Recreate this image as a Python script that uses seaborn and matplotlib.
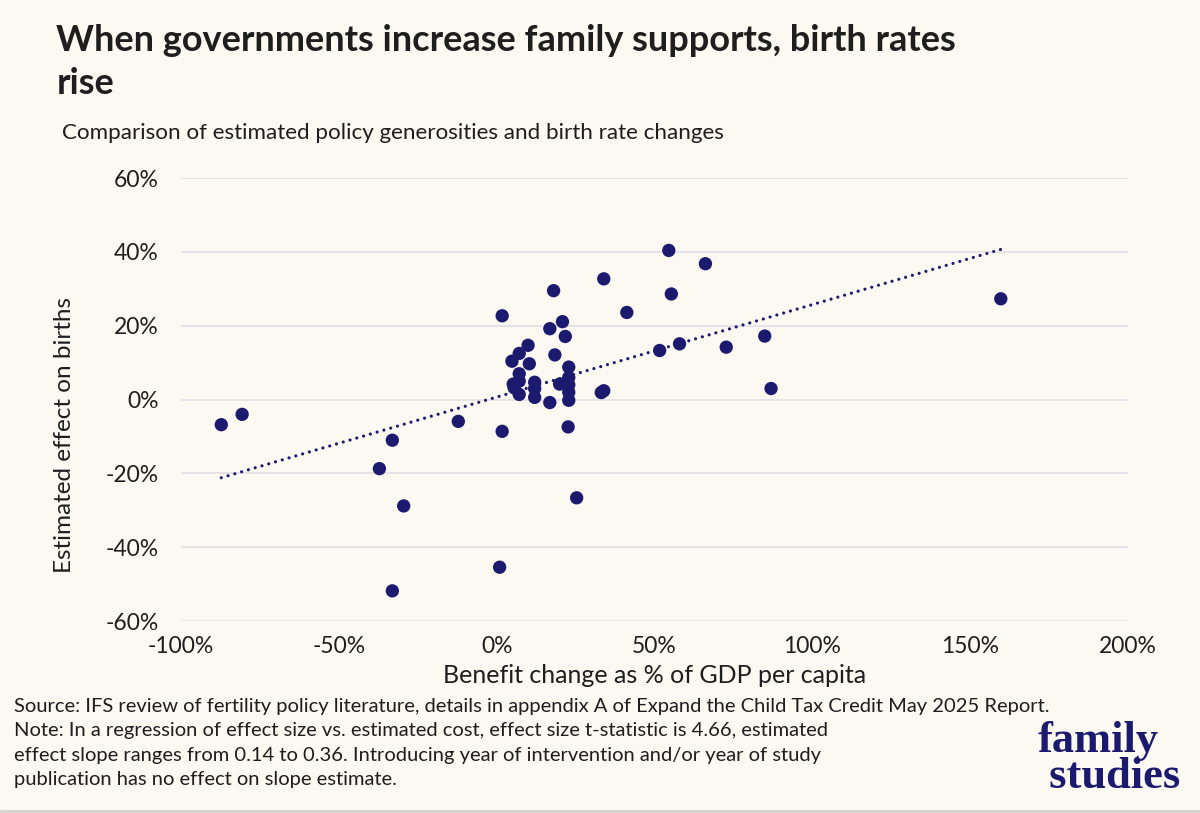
import matplotlib
matplotlib.use("Agg")
import matplotlib.pyplot as plt
from matplotlib.ticker import FuncFormatter, MultipleLocator
import seaborn as sns
import pandas as pd

# benefit change (% of GDP per capita) and estimated effect on births (%)
benefit_change = [
    -87.3, -80.7, -37.2, -33.1, -33.1, -29.5, -12.2,
    1.7, 1.7, 0.9,
    4.8, 5.2, 5.5, 7.1, 7.1, 7.1, 7.1, 9.9, 10.3, 12.0, 12.0, 12.0,
    16.8, 16.8, 18.0, 18.4, 19.9, 20.8, 21.7, 22.8, 22.8, 22.8, 22.8,
    22.8, 22.6, 25.3,
    33.1, 33.9, 33.9, 41.2, 51.6, 54.5, 55.3, 57.9, 66.1, 72.7, 84.9,
    86.9, 159.7,
]
birth_effect = [
    -6.8, -4.0, -18.7, -11.0, -51.8, -28.8, -5.9,
    22.7, -8.6, -45.4,
    10.4, 4.2, 3.2, 12.5, 7.0, 5.0, 1.4, 14.7, 9.7, 4.7, 3.0, 0.6,
    19.2, -0.8, 29.5, 12.1, 4.2, 21.1, 17.1, 8.8, 6.0, 4.0, 2.0,
    -0.2, -7.4, -26.6,
    1.9, 2.4, 32.7, 23.6, 13.3, 40.4, 28.6, 15.1, 36.8, 14.2, 17.2,
    3.0, 27.3,
]

title = "When governments increase family supports, birth rates\nrise"
subtitle = "Comparison of estimated policy generosities and birth rate changes"
x_label = "Benefit change as % of GDP per capita"
y_label = "Estimated effect on births"
notes = [
    "Source: IFS review of fertility policy literature, details in appendix A of Expand the Child Tax Credit May 2025 Report.",
    "Note: In a regression of effect size vs. estimated cost, effect size t-statistic is 4.66, estimated",
    "effect slope ranges from 0.14 to 0.36. Introducing year of intervention and/or year of study",
    "publication has no effect on slope estimate.",
]
logo = "family\n studies"

bg = "#FCF8F2"
navy = "#1B1A6E"
ink = "#1E1E1E"

df = pd.DataFrame({"benefit": benefit_change, "effect": birth_effect})

sns.set_theme(style="white")
plt.rcParams["font.family"] = ["Lato", "DejaVu Sans"]

fig = plt.figure(figsize=(12, 8.13), dpi=100, facecolor=bg)
ax = fig.add_axes([0.151, 0.236, 0.789, 0.545], facecolor=bg)

sns.regplot(data=df, x="benefit", y="effect", ax=ax, ci=None, scatter=False,
            line_kws=dict(color=navy, lw=2.3, linestyle=(0, (0.01, 2.2)),
                          dash_capstyle="round"))
sns.scatterplot(data=df, x="benefit", y="effect", ax=ax, color=navy, s=92,
                edgecolor="none", zorder=3)

ax.set_xlim(-100, 200)
ax.set_ylim(-60, 60)
ax.xaxis.set_major_locator(MultipleLocator(50))
ax.yaxis.set_major_locator(MultipleLocator(20))
ax.xaxis.set_major_formatter(FuncFormatter(lambda v, p: f"{v:.0f}%"))
ax.yaxis.set_major_formatter(FuncFormatter(lambda v, p: f"{v:.0f}%"))
ax.grid(axis="y", color="#E5E0E7", lw=1.3)
ax.grid(axis="x", visible=False)
for s in ax.spines.values():
    s.set_visible(False)
ax.tick_params(axis="both", length=0, labelsize=16.5, colors=ink)
ax.tick_params(axis="y", pad=16)
ax.tick_params(axis="x", pad=11)
ax.set_xlabel(x_label, fontsize=18, color=ink)
ax.set_ylabel(y_label, fontsize=17.5, color=ink)
ax.xaxis.label.set_va("center")
ax.yaxis.label.set_va("center")
ax.xaxis.set_label_coords(0.5, -0.122)
ax.yaxis.set_label_coords(-0.1235, 0.42)

fig.text(0.047, 0.970, title, fontsize=26, fontweight="bold", color=ink,
         va="top", ha="left", linespacing=1.36)
fig.text(0.052, 1 - 139 / 813, subtitle, fontsize=16.1, color=ink,
         va="baseline", ha="left")

for i, line in enumerate(notes):
    fig.text(0.0117, 1 - (706 + i * 24.5) / 813, line, fontsize=14.5,
             color=ink, va="center", ha="left")

# logo: both words in one text so the tight leading does not collide
fig.text(1038 / 1200, 1 - 788 / 813, logo, fontsize=32, fontweight="bold",
         family=["Liberation Serif", "DejaVu Serif"], color=navy,
         ha="left", va="baseline", linespacing=0.87)

fig.add_artist(plt.Line2D([0, 1], [0.002, 0.002], color="#D5D2CE", lw=2,
                          transform=fig.transFigure))

fig.savefig("out.png", dpi=100, facecolor=bg)
